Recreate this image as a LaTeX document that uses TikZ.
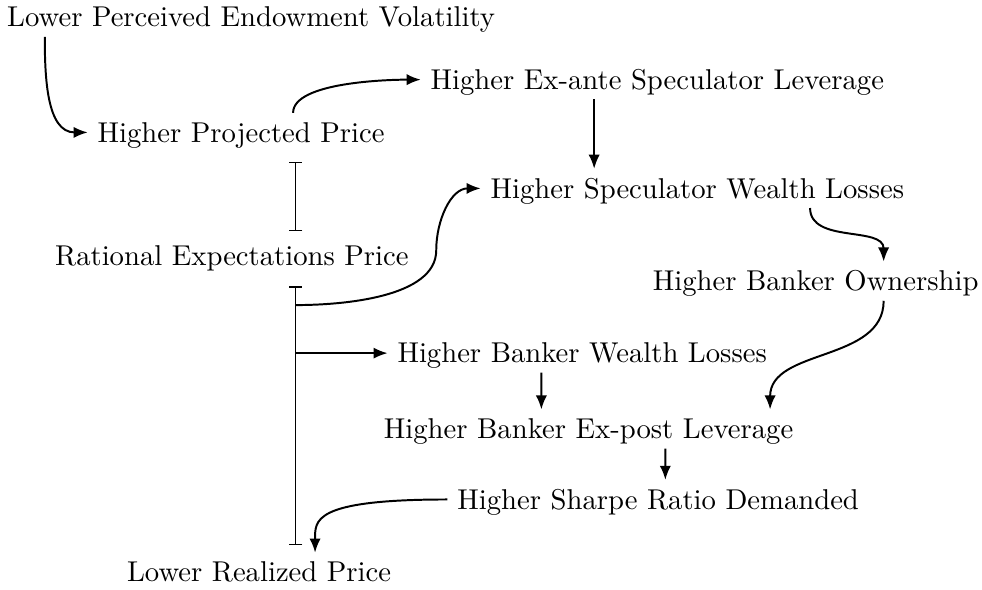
\documentclass[tikz,border=0pt]{standalone}
\usetikzlibrary{arrows.meta, positioning, calc}

\begin{document}
\begin{tikzpicture}[
    >={Latex[length=5pt, width=4pt]},
    txt/.style={font=\fontsize{10.2pt}{12pt}\selectfont, inner sep=3.33pt, text height=1.6ex, text depth=0pt},
    link/.style={->, line width=0.7pt},
    span/.style={|-|, thin},
]
    \useasboundingbox (0,0) rectangle (12.28,-7.37);
    \node[txt] (vol) at (3.14,-0.216) {Lower Perceived Endowment Volatility};
    \node[txt] (proj) at (3.015,-1.656) {Higher Projected Price};
    \node[txt] (exa) at (8.22,-0.996) {Higher Ex-ante Speculator Leverage};
    \node[txt] (swl) at (8.72,-2.356) {Higher Speculator Wealth Losses};
    \node[txt] (rep) at (2.90,-3.196) {Rational Expectations Price};
    \node[txt] (own) at (10.20,-3.516) {Higher Banker Ownership};
    \node[txt] (bwl) at (7.28,-4.416) {Higher Banker Wealth Losses};
    \node[txt] (bpl) at (7.36,-5.366) {Higher Banker Ex-post Leverage};
    \node[txt] (sharpe) at (8.23,-6.246) {Higher Sharpe Ratio Demanded};
    \node[txt] (real) at (3.24,-7.156) {Lower Realized Price};
    \coordinate (barx) at (3.70,0);
    \coordinate (tapA) at (3.70,-3.815);
    \coordinate (bendA) at (5.455,-3.13);
    \draw[span] ($(proj.south -| barx)+(0,-0.12)$) -- ($(rep.north -| barx)+(0,0.065)$);
    \draw[span] ($(rep.south -| barx)+(0,-0.14)$) -- ($(real.north -| barx)+(0,0.10)$);
    \draw[link] ([xshift=-2.58cm]vol.south) to[out=-90, in=180] (proj.west);
    \draw[link] ([xshift=6.5mm]proj.north) to[out=90, in=180, looseness=0.6] (exa.west);
    \draw[link] ([xshift=-7.9mm]exa.south) -- ([xshift=-12.9mm]swl.north);
    \draw[link] (tapA) to[out=0, in=-90, looseness=0.8] (bendA) to[out=90, in=180] (swl.west);
    \draw[link] (tapA |- bwl.west) -- (bwl.west);
    \draw[link] ([xshift=14.1mm]swl.south) to[out=-90, in=90] ([xshift=8.5mm]own.north);
    \draw[link] ([xshift=8.5mm]own.south) to[out=-90, in=90] ([xshift=22.7mm]bpl.north);
    \draw[link] ([xshift=-5.1mm]bwl.south) -- ([xshift=-5.9mm]bpl.north);
    \draw[link] ([xshift=9.6mm]bpl.south) -- ([xshift=0.9mm]sharpe.north);
    \draw[link] (sharpe.west) to[out=180, in=90, out distance=1.7cm, in distance=0.4cm] ([xshift=7mm]real.north);
\end{tikzpicture}
\end{document}
